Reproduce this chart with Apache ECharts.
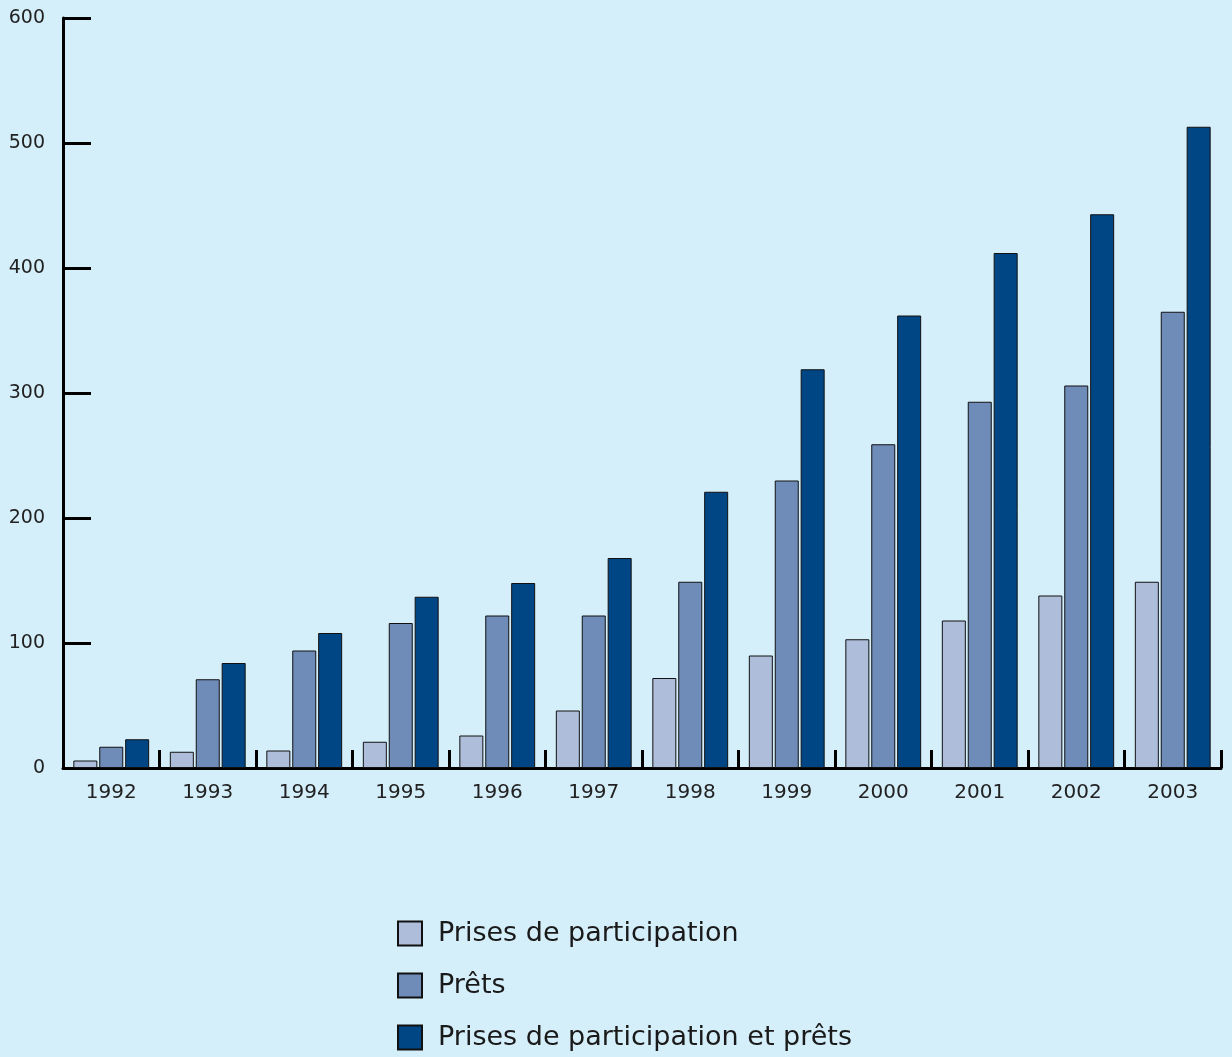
<!DOCTYPE html>
<html>
<head>
<meta charset="utf-8">
<title>Prises de participation et prêts</title>
<script src="https://cdn.jsdelivr.net/npm/echarts@6/dist/echarts.min.js"></script>
<style>
  html, body { margin: 0; padding: 0; background: #d4eefa; }
</style>
</head>
<body>
<div id="main" style="width:1232px;height:1057px"></div>
<script type="text/javascript">
// données
var annees = ['1992', '1993', '1994', '1995', '1996', '1997', '1998', '1999', '2000', '2001', '2002', '2003'];
var prises = [6, 13, 14, 21, 26, 46, 72, 90, 103, 118, 138, 149];
var prets = [17, 71, 94, 116, 122, 122, 149, 230, 259, 293, 306, 365];
var total = [23, 84, 108, 137, 148, 168, 221, 319, 362, 412, 443, 513];
var nomsSeries = ['Prises de participation', 'Prêts', 'Prises de participation et prêts'];

var myChart = echarts.init(document.getElementById('main'));

function serie(nom, valeurs, couleur) {
  return {
    name: nom,
    type: 'bar',
    data: valeurs,
    barWidth: 24,
    barGap: '8%',
    itemStyle: { color: couleur, borderColor: '#111', borderWidth: 1 }
  };
}

var option = {
  backgroundColor: '#d4eefa',
  animation: false,
  textStyle: { fontFamily: 'DejaVu Sans' },
  grid: { left: 63, right: 11, top: 18, bottom: 289, containLabel: false },
  legend: {
    orient: 'vertical',
    left: 397,
    top: 920,
    height: 300,
    padding: 0,
    itemWidth: 24,
    itemHeight: 24,
    itemGap: 25,
    icon: 'rect',
    data: nomsSeries,
    textStyle: { fontSize: 27, lineHeight: 24, color: '#1a1a1a', padding: [0, 0, 0, 11] }
  },
  xAxis: {
    type: 'category',
    data: annees,
    axisLine: { lineStyle: { color: '#000', width: 3 } },
    axisTick: { show: true, inside: true, length: 18, lineStyle: { color: '#000', width: 3 }, alignWithLabel: false },
    axisLabel: { fontSize: 20, color: '#222', margin: 15 }
  },
  yAxis: {
    type: 'value',
    min: 0,
    max: 600,
    interval: 100,
    axisLine: { show: true, lineStyle: { color: '#000', width: 3 } },
    axisTick: { show: true, inside: true, length: 28, lineStyle: { color: '#000', width: 3 } },
    axisLabel: { fontSize: 19, color: '#222', margin: 18 },
    splitLine: { show: false }
  },
  series: [
    serie(nomsSeries[0], prises, '#aebdd9'),
    serie(nomsSeries[1], prets, '#6f8cb8'),
    serie(nomsSeries[2], total, '#004684')
  ]
};

myChart.setOption(option);
</script>
</body>
</html>
